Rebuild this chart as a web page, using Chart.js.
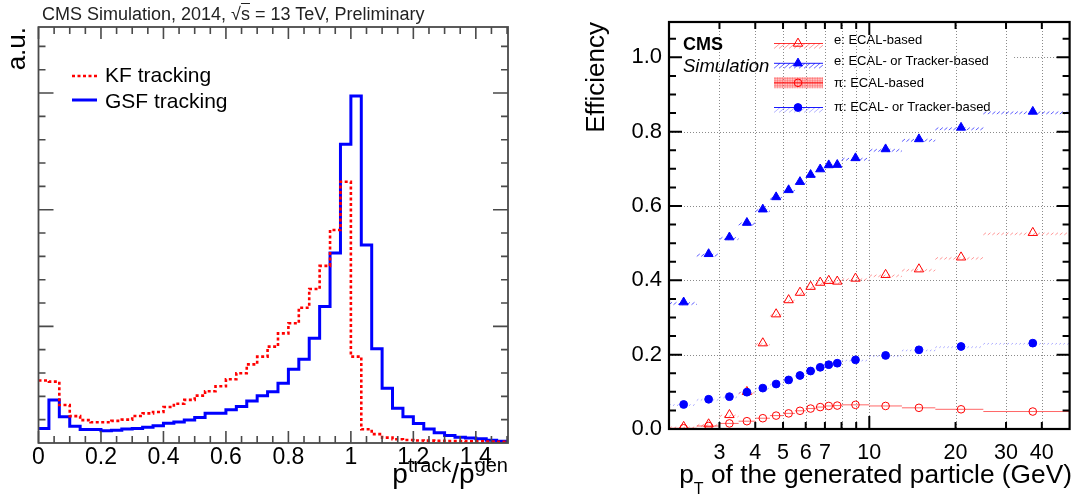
<!DOCTYPE html>
<html><head><meta charset="utf-8">
<script src="https://cdn.jsdelivr.net/npm/chart.js@4.4.0/dist/chart.umd.min.js"></script>
<style>
html,body{margin:0;padding:0;background:#fff;}
#wrap{position:relative;width:1076px;height:501px;overflow:hidden;font-family:"Liberation Sans",Arial,Helvetica,sans-serif;}
canvas{position:absolute;top:0;}
.t{position:absolute;white-space:nowrap;color:#000;}
.sup{position:relative;font-size:20px;top:-11px;}
.sub{position:relative;font-size:16px;top:11px;}
</style></head><body>
<div id="wrap">
<canvas id="c1" width="540" height="501" style="left:0"></canvas>
<canvas id="c2" width="528" height="501" style="left:548px"></canvas>
<div class="t" style="left:42px;top:5px;font-size:18px;line-height:18px;color:#222">CMS Simulation, 2014, √<span style="text-decoration:overline">s</span> = 13 TeV, Preliminary</div>
<div class="t" style="right:568px;top:460px;font-size:28px;line-height:28px">p<span class="sup">track</span>/p<span class="sup">gen</span></div>
<div class="t" style="right:4px;top:461px;font-size:26.3px;line-height:26px">p<span class="sub">T</span> of the generated particle (GeV)</div>
<div class="t" style="left:683px;top:35px;font-size:18px;line-height:18px;font-weight:bold">CMS</div>
<div class="t" style="left:683px;top:57px;font-size:18.5px;line-height:18.5px;font-style:italic">Simulation</div>
</div>
<script>
// ================= LEFT PANEL DATA =================
const histRange = [0, 1.5];               // p_track / p_gen, 45 equal bins
const kfTracking  = [2.68,2.63,1.63,1.15,0.98,0.89,0.89,0.95,1.0,1.16,1.27,1.33,1.54,1.68,1.85,2.03,2.22,2.43,2.73,2.99,3.37,3.7,4.13,4.7,5.13,5.8,6.6,7.59,9.13,11.2,3.7,0.59,0.38,0.23,0.16,0.13,0.11,0.1,0.09,0.08,0.08,0.07,0.07,0.06,0.05];
const gsfTracking = [0.62,1.84,1.12,0.72,0.58,0.58,0.53,0.55,0.6,0.62,0.67,0.74,0.85,0.9,0.99,1.09,1.27,1.27,1.42,1.56,1.8,2.02,2.2,2.56,3.16,3.59,4.49,5.85,8.14,12.8,14.87,8.49,4.04,2.35,1.49,1.12,0.84,0.6,0.44,0.32,0.25,0.21,0.18,0.12,0.08];
const leftXTicks = [0, 0.2, 0.4, 0.6, 0.8, 1, 1.2, 1.4];
const leftXTickLabels = ["0", "0.2", "0.4", "0.6", "0.8", "1", "1.2", "1.4"];

// ================= RIGHT PANEL DATA =================
const ptCenter = [2.25,2.75,3.25,3.74,4.25,4.73,5.23,5.73,6.24,6.74,7.22,7.73,8.95,11.4,14.9,20.9,37.2];
const ptLow    = [2,2.5,3,3.5,4,4.5,5,5.5,6,6.5,7,7.5,8,10,13,17,25];
const ptHigh   = [2.5,3,3.5,4,4.5,5,5.5,6,6.5,7,7.5,8,10,13,17,25,50];
const effEEcal   = [0.006,0.013,0.038,0.10,0.231,0.309,0.347,0.367,0.383,0.394,0.399,0.397,0.405,0.415,0.430,0.462,0.528];
const effETrk    = [0.341,0.471,0.516,0.555,0.591,0.624,0.643,0.665,0.684,0.699,0.710,0.711,0.729,0.753,0.780,0.811,0.854];
const effPiEcal  = [0.002,0.008,0.015,0.021,0.029,0.036,0.042,0.049,0.055,0.059,0.062,0.063,0.065,0.062,0.057,0.053,0.047];
const effPiTrk   = [0.066,0.080,0.087,0.099,0.110,0.121,0.132,0.144,0.156,0.166,0.173,0.177,0.186,0.198,0.213,0.222,0.231];
const rightXTicks = [3,4,5,6,7,10,20,30,40];
const rightXTickLabels = ["3","4","5","6","7","10","20","30","40"];
const rightYTicks = [0,0.2,0.4,0.6,0.8,1.0];
const rightYTickLabels = ["0.0","0.2","0.4","0.6","0.8","1.0"];
const rightGridX = [3,4,5,6,7,8,9,10,20,30,40];
const rightMinorX = [3,4,5,6,7,8,9,20,30,40];

Chart.defaults.font.family = '"Liberation Sans", Arial, Helvetica, sans-serif';
Chart.defaults.color = '#000';

// ---------- helpers ----------
function histPoints(vals) {
  const w = (histRange[1] - histRange[0]) / vals.length;
  const pts = vals.map((v, i) => ({x: histRange[0] + i * w, y: v}));
  pts.push({x: histRange[1], y: vals[vals.length - 1]});
  return pts;
}
function effPoints(vals) {
  return vals.map((v, i) => ({x: ptCenter[i], y: v, xlo: ptLow[i], xhi: ptHigh[i]}));
}

// ---------- LEFT CHART ----------
const leftDecor = {
  id: 'leftDecor',
  afterDatasetsDraw(chart) {
    const {ctx, chartArea: a, scales} = chart;
    ctx.save();
    ctx.strokeStyle = '#4a4a4a';
    ctx.lineWidth = 1.6;
    ctx.beginPath();
    for (let i = 0; i <= 30; i++) {
      const v = i * 0.05;
      const px = scales.x.getPixelForValue(v);
      if (px > a.right + 0.5) break;
      const len = (i % 4 === 0) ? 12 : 7;
      ctx.moveTo(px, a.bottom); ctx.lineTo(px, a.bottom - len);
      ctx.moveTo(px, a.top); ctx.lineTo(px, a.top + len);
    }
    for (let v = 1; v <= 17; v++) {
      const py = scales.y.getPixelForValue(v);
      const len = (v % 5 === 0) ? 15 : 7;
      ctx.moveTo(a.left, py); ctx.lineTo(a.left + len, py);
      ctx.moveTo(a.right, py); ctx.lineTo(a.right - len, py);
    }
    ctx.stroke();
    ctx.lineWidth = 1.8;
    ctx.strokeRect(a.left, a.top, a.right - a.left, a.bottom - a.top);
    ctx.restore();
  },
  afterDraw(chart) {
    const {ctx} = chart;
    const rows = [76, 100];
    ctx.save();
    chart.data.datasets.forEach((ds, i) => {
      const y = rows[i];
      ctx.strokeStyle = ds.borderColor;
      ctx.lineWidth = ds.borderWidth;
      ctx.setLineDash(ds.borderDash || []);
      ctx.beginPath(); ctx.moveTo(72, y); ctx.lineTo(97, y); ctx.stroke();
      ctx.setLineDash([]);
      ctx.fillStyle = '#000';
      ctx.font = '21px "Liberation Sans", Arial, sans-serif';
      ctx.textBaseline = 'alphabetic';
      ctx.fillText(ds.label, 105, y + 6 + (i === 0 ? 0 : 2));
    });
    ctx.restore();
  }
};

new Chart(document.getElementById('c1'), {
  type: 'line',
  data: {
    datasets: [
      {label: 'KF tracking', data: histPoints(kfTracking), borderColor: '#ff0000', borderWidth: 2.6,
       borderDash: [3, 2.5], stepped: 'before', pointRadius: 0, fill: false},
      {label: 'GSF tracking', data: histPoints(gsfTracking), borderColor: '#0000ff', borderWidth: 3,
       stepped: 'before', pointRadius: 0, fill: false}
    ]
  },
  options: {
    responsive: false, animation: false, devicePixelRatio: 1,
    layout: {padding: {top: 27, right: 32, left: 0, bottom: 0}},
    plugins: {legend: {display: false}, tooltip: {enabled: false}},
    scales: {
      x: {
        type: 'linear', min: 0, max: 1.503,
        afterBuildTicks: s => { s.ticks = leftXTicks.map(v => ({value: v})); },
        ticks: {callback: (v, i) => leftXTickLabels[i], font: {size: 23}, padding: 1, maxRotation: 0, autoSkip: false},
        grid: {display: false, drawTicks: false}, border: {display: false},
        afterFit: s => { s.height = 58; }
      },
      y: {
        min: 0, max: 17.83,
        ticks: {display: false},
        grid: {display: false, drawTicks: false}, border: {display: false},
        title: {display: true, text: 'a.u.', align: 'end', font: {size: 26}, color: '#000', padding: {top: 2, bottom: 0}},
        afterFit: s => { s.width = 38.5; }
      }
    }
  },
  plugins: [leftDecor]
});

// ---------- RIGHT CHART ----------
function drawHatchBand(ctx, x0, x1, y, h, step, color, lw) {
  ctx.strokeStyle = color; ctx.lineWidth = lw || 1;
  ctx.beginPath();
  for (let x = x0; x < x1 - 0.5; x += step) {
    const xe = Math.min(x + h * 1.2, x1);
    const ye = y + h - (xe - x) / 1.2;
    ctx.moveTo(x, y + h); ctx.lineTo(xe, ye);
  }
  ctx.stroke();
}
function drawHLine(ctx, x0, x1, y, color, lw, dash) {
  ctx.strokeStyle = color; ctx.lineWidth = lw || 1; ctx.setLineDash(dash || []);
  ctx.beginPath(); ctx.moveTo(x0, y); ctx.lineTo(x1, y); ctx.stroke(); ctx.setLineDash([]);
}
function drawErr(ctx, style, x0, x1, y) {
  if (style === 'eEcal') { drawHatchBand(ctx, x0, x1, y, 2.2, 4.5, 'rgba(255,70,70,0.55)', 1); }
  else if (style === 'eTrk') { drawHatchBand(ctx, x0, x1, y, 2.5, 4.5, 'rgba(40,40,255,0.75)', 1); }
  else if (style === 'piEcal') { drawHLine(ctx, x0, x1, y, 'rgba(255,0,0,0.6)', 1); }
  else if (style === 'piTrk') { drawHatchBand(ctx, x0, x1, y, 1.3, 4, 'rgba(60,60,255,0.45)', 1); }
}

const rightDecor = {
  id: 'rightDecor',
  beforeDatasetsDraw(chart) {
    const {ctx, chartArea: a, scales} = chart;
    ctx.save();
    ctx.strokeStyle = '#8a8a8a'; ctx.lineWidth = 1; ctx.setLineDash([1, 2]);
    ctx.beginPath();
    rightGridX.forEach(v => { const px = Math.round(scales.x.getPixelForValue(v)) + 0.5; ctx.moveTo(px, a.top); ctx.lineTo(px, a.bottom); });
    rightYTicks.forEach(v => {
      if (v === 0) return;
      const py = Math.round(scales.y.getPixelForValue(v)) + 0.5;
      const xs = (v === 1.0) ? scales.x.getPixelForValue(32) : a.left;
      ctx.moveTo(xs, py); ctx.lineTo(a.right, py);
    });
    ctx.stroke();
    ctx.setLineDash([]);
    ctx.save();
    ctx.beginPath(); ctx.rect(a.left, a.top, a.right - a.left, a.bottom - a.top); ctx.clip();
    chart.data.datasets.forEach(ds => {
      ds.data.forEach(p => {
        const x0 = scales.x.getPixelForValue(p.xlo), x1 = scales.x.getPixelForValue(p.xhi);
        const y = scales.y.getPixelForValue(p.y);
        drawErr(ctx, ds.errStyle, x0, x1, y);
      });
    });
    ctx.restore();
    ctx.restore();
  },
  afterDatasetsDraw(chart) {
    const {ctx, chartArea: a, scales} = chart;
    ctx.save();
    ctx.strokeStyle = '#000'; ctx.lineWidth = 2;
    ctx.beginPath();
    rightMinorX.forEach(v => {
      const px = scales.x.getPixelForValue(v);
      ctx.moveTo(px, a.bottom); ctx.lineTo(px, a.bottom - 7);
      ctx.moveTo(px, a.top); ctx.lineTo(px, a.top + 7);
    });
    const p10 = scales.x.getPixelForValue(10);
    ctx.moveTo(p10, a.bottom); ctx.lineTo(p10, a.bottom - 13);
    ctx.moveTo(p10, a.top); ctx.lineTo(p10, a.top + 13);
    for (let i = 1; i <= 21; i++) {
      const v = i * 0.05;
      const py = scales.y.getPixelForValue(v);
      if (py < a.top) break;
      const len = (i % 4 === 0) ? 13 : 7;
      ctx.moveTo(a.left, py); ctx.lineTo(a.left + len, py);
      ctx.moveTo(a.right, py); ctx.lineTo(a.right - len, py);
    }
    ctx.stroke();
    ctx.lineWidth = 2.2;
    ctx.strokeRect(a.left, a.top, a.right - a.left, a.bottom - a.top);
    ctx.restore();
  },
  afterDraw(chart) {
    const {ctx} = chart;
    const order = [0, 1, 2, 3];
    const bandY = [43.5, 63.3, 82.8, 107.5];
    const textY = [40.5, 61.5, 83, 107];
    const x0 = 226, x1 = 275, xm = 250, xt = 286;
    ctx.save();
    order.forEach((di, r) => {
      const ds = chart.data.datasets[di];
      const y = bandY[r];
      if (ds.errStyle === 'eEcal') {
        drawHatchBand(ctx, x0, x1, y, 5, 5, 'rgba(255,90,90,0.6)', 1);
        drawHLine(ctx, x0, x1, y, 'rgba(255,0,0,0.8)', 1);
      } else if (ds.errStyle === 'eTrk') {
        drawHatchBand(ctx, x0, x1, y, 5, 5, 'rgba(40,40,255,0.7)', 1);
        drawHLine(ctx, x0, x1, y, 'rgba(0,0,255,0.9)', 1);
      } else if (ds.errStyle === 'piEcal') {
        ctx.fillStyle = 'rgba(255,80,80,0.35)';
        ctx.fillRect(x0, y - 5.5, x1 - x0, 11);
        ctx.strokeStyle = 'rgba(255,60,60,0.35)'; ctx.lineWidth = 1; ctx.beginPath();
        for (let yy = y - 4.5; yy <= y + 5; yy += 2.5) { ctx.moveTo(x0, yy); ctx.lineTo(x1, yy); }
        for (let xx = x0 + 1; xx <= x1; xx += 2.5) { ctx.moveTo(xx, y - 5.5); ctx.lineTo(xx, y + 5.5); }
        ctx.stroke();
        drawHLine(ctx, x0, x1, y, 'rgba(255,0,0,0.9)', 1);
      } else {
        drawHatchBand(ctx, x0, x1, y, 5, 5, 'rgba(90,90,255,0.45)', 1);
        drawHLine(ctx, x0, x1, y, 'rgba(0,0,255,0.9)', 1);
      }
      ctx.fillStyle = ds.backgroundColor;
      ctx.strokeStyle = ds.borderColor;
      ctx.lineWidth = ds.borderWidth;
      Chart.helpers.drawPoint(ctx, {pointStyle: ds.pointStyle, radius: ds.pointRadius, rotation: 0, borderWidth: ds.borderWidth}, xm, y);
      ctx.fillStyle = '#000';
      ctx.font = '13px "Liberation Sans", Arial, sans-serif';
      ctx.textBaseline = 'middle';
      ctx.fillText(ds.label, xt, textY[r]);
    });
    ctx.restore();
  }
};

new Chart(document.getElementById('c2'), {
  type: 'scatter',
  data: {
    datasets: [
      {label: 'e: ECAL-based', data: effPoints(effEEcal), errStyle: 'eEcal', order: 4,
       pointStyle: 'triangle', pointRadius: 5.4, borderColor: '#ff0000', backgroundColor: 'rgba(255,255,255,0)', borderWidth: 1},
      {label: 'e: ECAL- or Tracker-based', data: effPoints(effETrk), errStyle: 'eTrk', order: 2,
       pointStyle: 'triangle', pointRadius: 5.2, borderColor: '#0000ff', backgroundColor: '#0000ff', borderWidth: 1},
      {label: 'π: ECAL-based', data: effPoints(effPiEcal), errStyle: 'piEcal', order: 3,
       pointStyle: 'circle', pointRadius: 3.8, borderColor: '#ff0000', backgroundColor: 'rgba(255,255,255,0)', borderWidth: 1},
      {label: 'π: ECAL- or Tracker-based', data: effPoints(effPiTrk), errStyle: 'piTrk', order: 1,
       pointStyle: 'circle', pointRadius: 3.9, borderColor: '#0000ff', backgroundColor: '#0000ff', borderWidth: 1}
    ]
  },
  options: {
    responsive: false, animation: false, devicePixelRatio: 1,
    layout: {padding: {top: 22, right: 4, left: 0, bottom: 0}},
    plugins: {legend: {display: false}, tooltip: {enabled: false}},
    scales: {
      x: {
        type: 'logarithmic', min: 2, max: 50,
        afterBuildTicks: s => { s.ticks = rightXTicks.map(v => ({value: v})); },
        ticks: {callback: (v, i) => rightXTickLabels[i], font: {size: 21.5}, padding: 11, maxRotation: 0, autoSkip: false},
        grid: {display: false, drawTicks: false}, border: {display: false},
        afterFit: s => { s.height = 72; }
      },
      y: {
        type: 'linear', min: 0, max: 1.095,
        afterBuildTicks: s => { s.ticks = rightYTicks.map(v => ({value: v})); },
        ticks: {callback: (v, i) => rightYTickLabels[i], font: {size: 22}, padding: 7, autoSkip: false},
        grid: {display: false, drawTicks: false}, border: {display: false},
        title: {display: true, text: 'Efficiency', align: 'end', font: {size: 26}, color: '#000', padding: {top: 33, bottom: 0}},
        afterFit: s => { s.width = 121; }
      }
    }
  },
  plugins: [rightDecor]
});
</script>
</body></html>
